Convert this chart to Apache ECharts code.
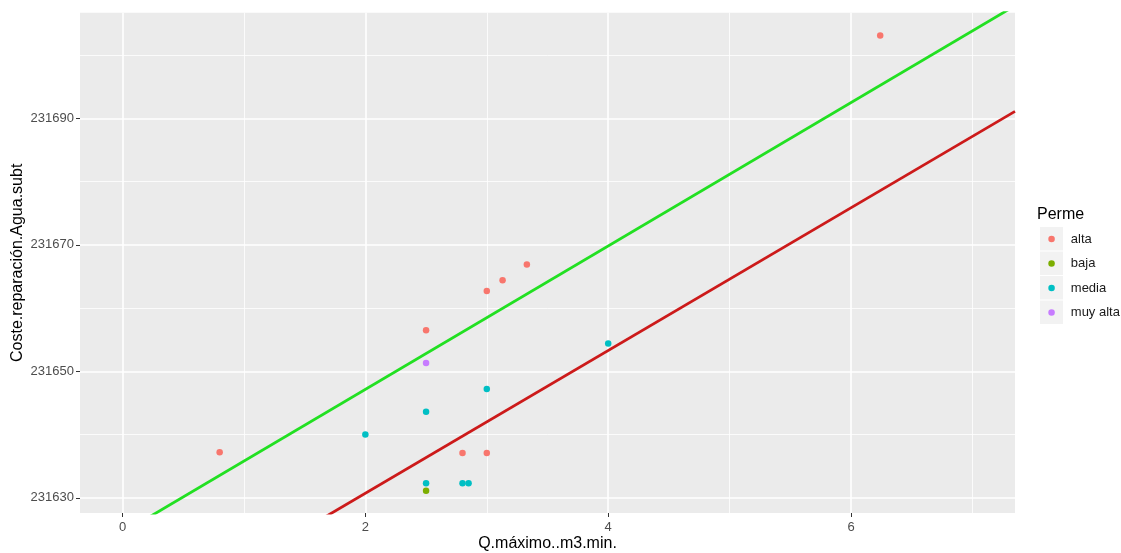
<!DOCTYPE html>
<html>
<head>
<meta charset="utf-8">
<script src="https://cdn.jsdelivr.net/npm/echarts@6/dist/echarts.min.js"></script>
<style>
  html, body { margin: 0; padding: 0; background: #ffffff; }
  #chart { width: 1121px; height: 553px; }
</style>
</head>
<body>
<div id="chart"></div>
<script>
// Observations grouped by permeability class: [Q.máximo, Coste]
const alta = [[0.8, 231637.2], [2.5, 231656.5], [3.0, 231662.7], [3.13, 231664.4],
              [3.33, 231666.9], [2.8, 231637.1], [3.0, 231637.1], [6.24, 231703.1]];
const baja = [[2.5, 231631.1]];
const media = [[2.0, 231640.0], [2.5, 231643.6], [3.0, 231647.2], [4.0, 231654.4],
               [2.5, 231632.3], [2.8, 231632.3], [2.85, 231632.3]];
const muyAlta = [[2.5, 231651.3]];

// Fitted reference lines, as end points spanning the plotted x range
const lineGreen = [[-0.35, 231620.5], [7.35, 231707.8]];
const lineRed = [[-0.35, 231604.2], [7.35, 231691.1]];

// Axis breaks
const xMajor = [0, 2, 4, 6];
const xMinor = [1, 3, 5, 7];
const yMajor = [231630, 231650, 231670, 231690];
const yMinor = [231640, 231660, 231680, 231700];

const groups = ['alta', 'baja', 'media', 'muy alta'];
const groupData = [alta, baja, media, muyAlta];
const groupColors = ['#F8766D', '#7CAE00', '#00BFC4', '#C77CFF'];

const FONT = '"Liberation Sans", Arial, sans-serif';

// Panel grid: white major and thinner minor lines
const gridLines = []
  .concat(xMinor.map(v => ({ xAxis: v, lineStyle: { width: 0.8 } })))
  .concat(yMinor.map(v => ({ yAxis: v, lineStyle: { width: 0.8 } })))
  .concat(xMajor.map(v => ({ xAxis: v, lineStyle: { width: 1.6 } })))
  .concat(yMajor.map(v => ({ yAxis: v, lineStyle: { width: 1.6 } })));

const series = [
  {
    type: 'scatter',
    data: [],
    z: 1,
    silent: true,
    markLine: {
      z: 1,
      silent: true,
      symbol: 'none',
      animation: false,
      label: { show: false },
      lineStyle: { color: '#ffffff', type: 'solid' },
      data: gridLines
    }
  },
  {
    type: 'line', data: lineGreen, showSymbol: false, clip: true, z: 2, silent: true,
    lineStyle: { color: '#22E022', width: 2.8 }
  },
  {
    type: 'line', data: lineRed, showSymbol: false, clip: true, z: 2, silent: true,
    lineStyle: { color: '#CC1A1A', width: 2.8 }
  }
];
groups.forEach((g, i) => {
  series.push({
    name: g,
    type: 'scatter',
    data: groupData[i],
    symbol: 'circle',
    symbolSize: 6.5,
    z: 3,
    itemStyle: { color: groupColors[i], opacity: 1 }
  });
});

// Grey legend key backgrounds
const keyBoxes = groups.map((g, i) => ({
  type: 'rect',
  left: 1040,
  top: 227 + i * 24.5,
  z: -1,
  shape: { width: 23, height: 23.5 },
  style: { fill: '#F2F2F2' }
}));

const plainNumber = v => String(v);

const chart = echarts.init(document.getElementById('chart'), null, { renderer: 'canvas' });
chart.setOption({
  animation: false,
  backgroundColor: '#ffffff',
  textStyle: { fontFamily: FONT },
  grid: {
    left: 80, right: 106, top: 12.7, bottom: 40,
    outerBoundsMode: 'none',
    containLabel: false,
    show: true, backgroundColor: '#EBEBEB', borderWidth: 0
  },
  xAxis: {
    type: 'value',
    min: -0.35, max: 7.35,
    name: 'Q.máximo..m3.min.',
    nameLocation: 'middle',
    nameGap: 23,
    nameMoveOverlap: false,
    nameTextStyle: { color: '#000000', fontSize: 16, fontFamily: FONT },
    axisLine: { show: false, onZero: false },
    axisTick: { show: true, length: 4, customValues: xMajor, lineStyle: { color: '#333333', width: 1 } },
    axisLabel: { customValues: xMajor, margin: 8, color: '#4D4D4D', fontSize: 13, fontFamily: FONT, formatter: plainNumber },
    splitLine: { show: false },
    minorSplitLine: { show: false }
  },
  yAxis: {
    type: 'value',
    min: 231627.6, max: 231706.7,
    name: 'Coste.reparación.Agua.subt',
    nameLocation: 'middle',
    nameGap: 54,
    nameMoveOverlap: false,
    nameTextStyle: { color: '#000000', fontSize: 16, fontFamily: FONT },
    axisLine: { show: false, onZero: false },
    axisTick: { show: true, length: 4, customValues: yMajor, lineStyle: { color: '#333333', width: 1 } },
    axisLabel: { customValues: yMajor, margin: 6, color: '#4D4D4D', fontSize: 13, fontFamily: FONT, formatter: plainNumber },
    splitLine: { show: false },
    minorSplitLine: { show: false }
  },
  title: {
    text: 'Perme',
    left: 1037, top: 207,
    padding: 0,
    textStyle: { color: '#000000', fontSize: 16, fontWeight: 'normal', fontFamily: FONT }
  },
  legend: {
    orient: 'vertical',
    left: 1048.3, top: 227,
    padding: 0,
    itemGap: 0.5,
    itemWidth: 6.5, itemHeight: 6.5,
    icon: 'circle',
    data: groups,
    selectedMode: false,
    formatter: name => '{t|' + name + '}',
    textStyle: {
      color: '#1A1A1A', fontSize: 13, fontFamily: FONT, lineHeight: 24, height: 24,
      rich: { t: { color: '#1A1A1A', fontSize: 13, fontFamily: FONT, lineHeight: 24, height: 24, padding: [0, 0, 0, 11] } }
    }
  },
  graphic: keyBoxes,
  series: series
});
</script>
</body>
</html>
